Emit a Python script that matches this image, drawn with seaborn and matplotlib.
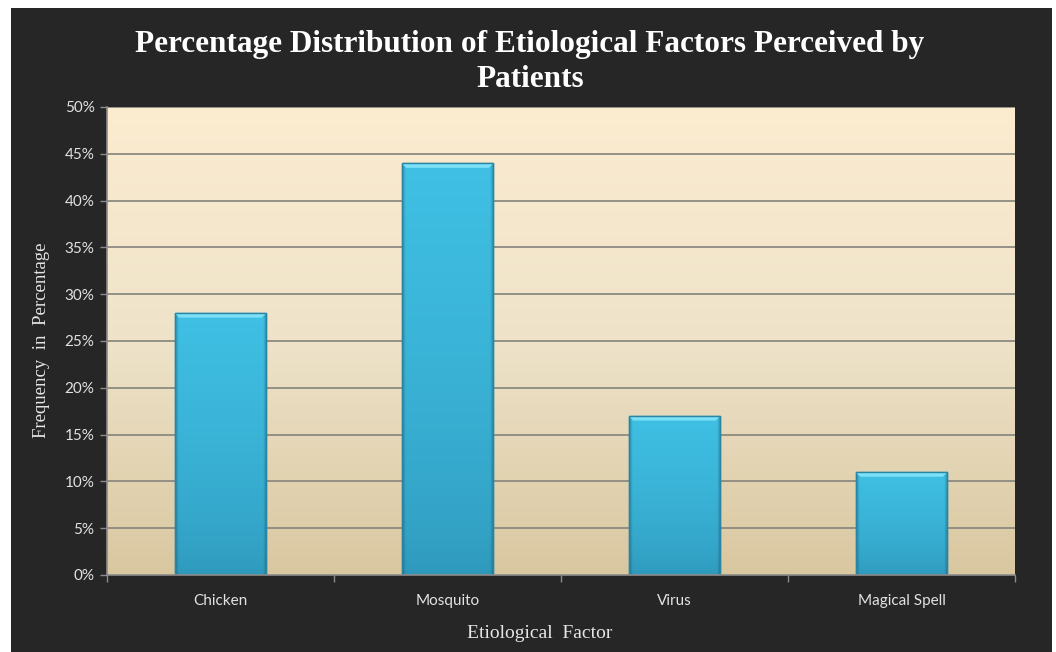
import numpy as np
import pandas as pd
import matplotlib
matplotlib.use("Agg")
import matplotlib.pyplot as plt
from matplotlib.patches import Rectangle, Polygon
from matplotlib.colors import LinearSegmentedColormap, to_rgb
from matplotlib.ticker import FuncFormatter, FixedLocator
import seaborn as sns

# Survey results
factors = ["Chicken", "Mosquito", "Virus", "Magical Spell"]
percentages = [28, 44, 17, 11]
y_ticks = [0, 5, 10, 15, 20, 25, 30, 35, 40, 45, 50]

title = "Percentage Distribution of Etiological Factors Perceived by\nPatients"
x_label = "Etiological  Factor"
y_label = "Frequency  in  Percentage"

df = pd.DataFrame({"factor": factors, "pct": percentages})

sns.set_theme(style="white")
plt.rcParams["font.family"] = ["Lato", "DejaVu Sans"]

W, H = 1056, 652
fig = plt.figure(figsize=(W / 100, H / 100), dpi=100, facecolor="white")

# dark chart frame
fig.patches.append(Rectangle((11 / W, 0), (1052 - 11) / W, 1 - 8 / H,
                             transform=fig.transFigure, facecolor="#262626",
                             edgecolor="none", zorder=-10))

ax = fig.add_axes([107 / W, 1 - 575 / H, (1015 - 107) / W, (575 - 107) / H])
ax.set_zorder(1)
ax.set_facecolor("none")

sns.barplot(data=df, x="factor", y="pct", ax=ax, width=0.405,
            color="#3bb9df", edgecolor="#2b8fb0", linewidth=1.0,
            saturation=1, zorder=3)

ax.set_xlim(-0.5, len(factors) - 0.5)
ax.set_ylim(0, 50)

# plot area gradient: cream at the top to tan at the bottom
bg = LinearSegmentedColormap.from_list("bg", ["#d9c7a0", "#eee3c9", "#fcecd0"])
grad = np.linspace(0, 1, 256).reshape(-1, 1)
ax.imshow(grad, cmap=bg, aspect="auto", origin="lower",
          extent=(-0.5, len(factors) - 0.5, 0, 50), zorder=0)

# bar fill: vertical shading with darker side edges
bottom_c = np.array(to_rgb("#2e97ba"))
top_c = np.array(to_rgb("#3fc0e4"))
ny, nx = 200, 100
vy = np.linspace(0, 1, ny)[:, None, None] ** 0.6
col = bottom_c + (top_c - bottom_c) * vy
xs = np.linspace(0, 1, nx)
edge = np.minimum(xs, 1 - xs)
side = 1 - 0.25 * np.clip(1 - edge / 0.035, 0, 1)
bar_img = np.clip(col * side[None, :, None], 0, 1)

bevel_h = 0.5
for p in list(ax.patches):
    x0, y0 = p.get_x(), p.get_y()
    w, h = p.get_width(), p.get_height()
    im = ax.imshow(bar_img, aspect="auto", origin="lower",
                   extent=(x0, x0 + w, y0, y0 + h), zorder=3.5)
    im.set_clip_path(p)
    inset = w * 0.05
    ax.add_patch(Polygon([(x0, y0 + h), (x0 + w, y0 + h),
                          (x0 + w - inset, y0 + h - bevel_h),
                          (x0 + inset, y0 + h - bevel_h)],
                         closed=True, facecolor="#7ce0f6", edgecolor="none",
                         zorder=4))
    ax.add_patch(Rectangle((x0, y0), w, h, facecolor="none",
                           edgecolor="#2a85a3", linewidth=1.0, zorder=4.5))

ax.set_xlim(-0.5, len(factors) - 0.5)
ax.set_ylim(0, 50)

# gridlines
ax.yaxis.set_major_locator(FixedLocator(y_ticks))
for t in y_ticks[1:]:
    ax.axhline(t, color="#8c8a80", linewidth=1.3, zorder=1)

ax.yaxis.set_major_formatter(FuncFormatter(lambda v, _: f"{v:.0f}%"))
ax.tick_params(axis="y", which="major", direction="out", length=5, width=1,
               color="#8c8c8c", labelsize=11, labelcolor="#e2e2e2", pad=4,
               left=True)
ax.xaxis.set_minor_locator(FixedLocator(np.arange(-0.5, len(factors), 1.0)))
ax.tick_params(axis="x", which="major", length=0, labelsize=11,
               labelcolor="#e2e2e2", pad=14)
ax.tick_params(axis="x", which="minor", direction="out", length=5, width=1,
               color="#8c8c8c", bottom=True)

for side_name in ["top", "right"]:
    ax.spines[side_name].set_visible(False)
for side_name in ["left", "bottom"]:
    ax.spines[side_name].set_color("#8c8c8c")
    ax.spines[side_name].set_linewidth(1.2)
    ax.spines[side_name].set_zorder(5)

ax.set_xlabel(x_label, family="Liberation Serif", fontsize=14, color="#e6e6e6")
ax.set_ylabel(y_label, family="Liberation Serif", fontsize=13.5, color="#e6e6e6")
ax.xaxis.set_label_coords(0.477, -0.124)
ax.yaxis.set_label_coords(-0.0716, 0.502)
ax.xaxis.label.set_va("center")
ax.yaxis.label.set_va("center")

fig.text(530 / W, 1 - 62 / H, title, ha="center", va="center",
         family="Liberation Serif", fontweight="bold", fontsize=22.5,
         color="white", linespacing=1.3)

fig.savefig("out.png", dpi=100, facecolor="white")
